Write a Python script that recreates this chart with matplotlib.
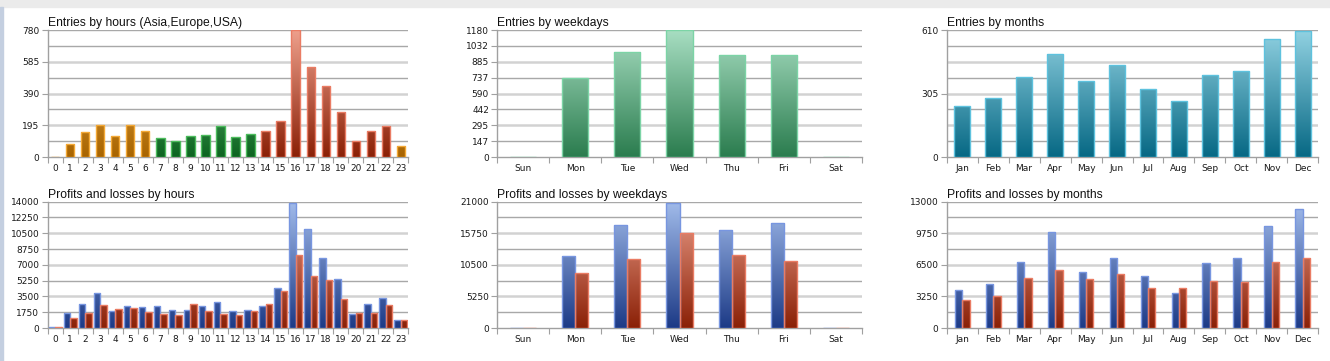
import numpy as np
import matplotlib
matplotlib.use('Agg')
import matplotlib.pyplot as plt
from matplotlib.colors import LinearSegmentedColormap
from matplotlib.patches import Rectangle

plt.rcParams['font.family'] = ['Liberation Sans', 'DejaVu Sans']

# data
hours = [str(h) for h in range(24)]
entries_hours = [2, 80, 153, 194, 131, 198, 159, 118, 98, 129, 135, 190,
                 125, 143, 157, 220, 780, 551, 435, 278, 100, 157, 192, 69]
hour_session = ['Asia'] * 7 + ['Europe'] * 7 + ['USA'] * 9 + ['Asia']

weekdays = ['Sun', 'Mon', 'Tue', 'Wed', 'Thu', 'Fri', 'Sat']
entries_weekdays = [0, 735, 976, 1180, 948, 948, 0]

months = ['Jan', 'Feb', 'Mar', 'Apr', 'May', 'Jun',
          'Jul', 'Aug', 'Sep', 'Oct', 'Nov', 'Dec']
entries_months = [243, 283, 386, 495, 366, 441, 327, 270, 394, 415, 569, 605]

profit_hours = [80, 1695, 2652, 3831, 1916, 2431, 2284, 2431, 2026, 1989, 2431, 2874,
                1916, 1989, 2395, 4421, 13815, 10942, 7773, 5415, 1547, 2652, 3279, 884]
loss_hours = [60, 1068, 1695, 2542, 2137, 2174, 1805, 1547, 1400, 2652, 1879, 1547,
              1437, 1879, 2652, 4089, 8105, 5784, 5268, 3205, 1621, 1695, 2505, 884]

profit_weekdays = [0, 11990, 17130, 20830, 16250, 17520, 0]
loss_weekdays = [0, 9120, 11440, 15750, 12160, 11160, 0]

profit_months = [3934, 4516, 6808, 9852, 5747, 7218, 5337, 3558, 6671, 7184, 10468, 12213]
loss_months = [2839, 3318, 5097, 6021, 5063, 5508, 4105, 4105, 4824, 4687, 6774, 7218]

# gradient styles: (bottom, top, edge)
ORANGE = ('#a86400', '#f2b85a', '#f4a936')
GREEN = ('#0c6420', '#7fcf8c', '#4cbc5c')
RED = ('#8a2006', '#eea08c', '#ea7c64')
SEA = ('#2a7c4e', '#a8dec2', '#7cd4a6')
TEAL = ('#066884', '#92d2e2', '#5ec2de')
BLUE = ('#1c3a86', '#a2bceb', '#7896e0')
session_style = {'Asia': ORANGE, 'Europe': GREEN, 'USA': RED}

TICK_FONT = dict(family='DejaVu Sans', size=6.5)

W, H = 1330, 361
fig = plt.figure(figsize=(W / 100, H / 100), dpi=100)
fig.patches.append(Rectangle((0, 1 - 7 / H), 1, 7 / H, transform=fig.transFigure,
                             color='#ebebeb', zorder=0))
fig.patches.append(Rectangle((0, 0), 3 / W, 1 - 7 / H, transform=fig.transFigure,
                             color='#c4cfe0', zorder=0))


def make_ax(x0, x1, y0, y1):
    return fig.add_axes([x0 / W, 1 - y1 / H, (x1 - x0) / W, (y1 - y0) / H])


def grad_fill(ax, rects, style, ymax):
    cmap = LinearSegmentedColormap.from_list('g', [style[0], style[1]])
    grad = np.linspace(0, 1, 256).reshape(-1, 1)
    for r in rects:
        x0, w = r.get_x(), r.get_width()
        r.set_facecolor('none')
        r.set_edgecolor(style[2])
        r.set_linewidth(1.0)
        r.set_zorder(4)
        im = ax.imshow(grad, cmap=cmap, origin='lower', aspect='auto',
                       extent=[x0, x0 + w, 0, ymax], zorder=3, interpolation='bilinear')
        im.set_clip_path(r)


def frame(ax, title, labels, ymax, label_every):
    n = len(labels)
    ax.set_xlim(-0.5, n - 0.5)
    ax.set_ylim(0, ymax)
    for i in range(1, 9):
        y = ymax * i / 8
        if i % 2 == 1 or i == 8:
            ax.axhline(y, color='#a8a8a8', lw=1.0, zorder=1)
        else:
            ax.axhline(y, color='#d2d2d2', lw=1.8, zorder=1)
    for s in ['top', 'right']:
        ax.spines[s].set_visible(False)
    for s in ['left', 'bottom']:
        ax.spines[s].set_color('#a0a0a0')
        ax.spines[s].set_linewidth(1.0)
    yt = [ymax * i / 8 for i in range(0, 9, label_every)]
    ax.set_yticks(yt)
    ax.set_yticklabels([str(int(v)) for v in yt], fontdict=TICK_FONT)
    ax.set_xticks(np.arange(-0.5, n, 1))
    ax.set_xticklabels([''] * (n + 1))
    ax.set_xticks(np.arange(n), minor=True)
    ax.set_xticklabels(labels, minor=True, fontdict=TICK_FONT)
    ax.tick_params(axis='x', which='major', length=4, color='#a0a0a0')
    ax.tick_params(axis='x', which='minor', length=0, pad=5, labelcolor='#1a1a1a')
    ax.tick_params(axis='y', length=4, color='#a0a0a0', pad=2, labelcolor='#1a1a1a')
    ax.set_title(title, loc='left', fontsize=8.7, pad=3, color='#111111')
    ax.set_facecolor('white')


cols = [(47.7, 408.3), (497.3, 861.7), (946.7, 1318.3)]
top = (30, 157)
bot = (201.7, 328)

# entries by hours
ax = make_ax(*cols[0], *top)
x = np.arange(len(hours))
for sess in session_style:
    idx = [i for i in range(len(hours)) if hour_session[i] == sess]
    bars = ax.bar(x[idx], [entries_hours[i] for i in idx], width=0.55)
    grad_fill(ax, bars, session_style[sess], 780)
frame(ax, 'Entries by hours (Asia,Europe,USA)', hours, 780, 2)

# entries by weekdays
ax = make_ax(*cols[1], *top)
bars = ax.bar(np.arange(7), entries_weekdays, width=0.5)
grad_fill(ax, bars, SEA, 1180)
frame(ax, 'Entries by weekdays', weekdays, 1180, 1)

# entries by months
ax = make_ax(*cols[2], *top)
bars = ax.bar(np.arange(12), entries_months, width=0.5)
grad_fill(ax, bars, TEAL, 610)
frame(ax, 'Entries by months', months, 610, 4)


def pair_chart(cx, labels, profit, loss, ymax, every, title, bw):
    ax = make_ax(*cx, *bot)
    x = np.arange(len(labels))
    b1 = ax.bar(x - bw / 2, profit, width=bw)
    b2 = ax.bar(x + bw / 2, loss, width=bw)
    grad_fill(ax, b1, BLUE, ymax)
    grad_fill(ax, b2, RED, ymax)
    frame(ax, title, labels, ymax, every)


pair_chart(cols[0], hours, profit_hours, loss_hours, 14000, 1,
           'Profits and losses by hours', 0.43)
pair_chart(cols[1], weekdays, profit_weekdays, loss_weekdays, 21000, 2,
           'Profits and losses by weekdays', 0.25)
pair_chart(cols[2], months, profit_months, loss_months, 13000, 2,
           'Profits and losses by months', 0.24)

fig.savefig('out.png', dpi=100, facecolor='white')
